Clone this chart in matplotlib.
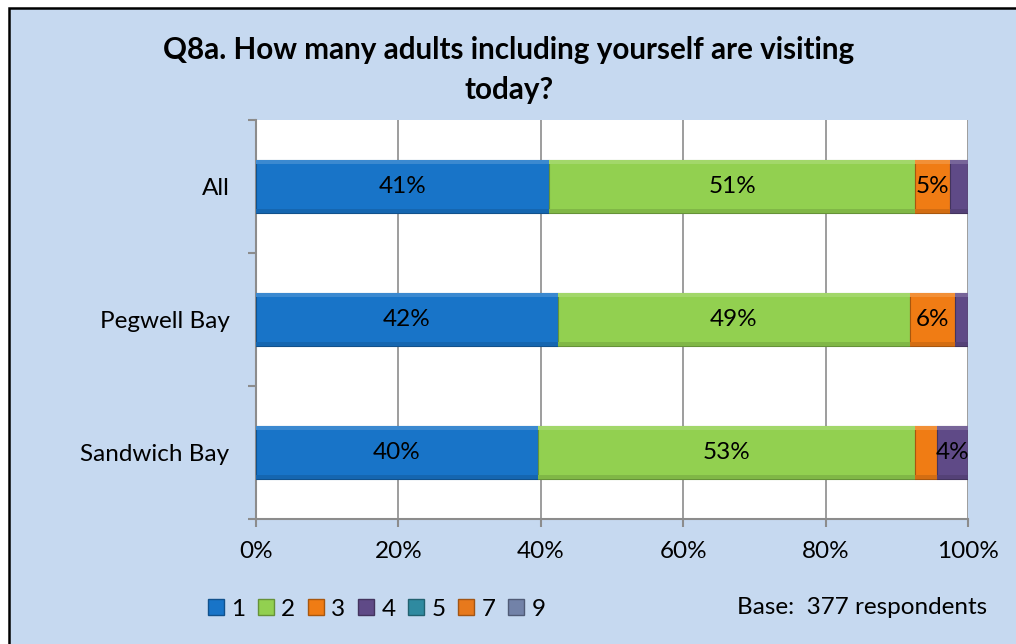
import numpy as np
import matplotlib.pyplot as plt
import matplotlib.patches as mpatches
from matplotlib.colors import to_rgb

# Share of respondents by number of adults in the group (%)
sites = ["All", "Pegwell Bay", "Sandwich Bay"]
groups = ["1", "2", "3", "4", "5", "7", "9"]
pct_1 = [41.2, 42.4, 39.6]
pct_2 = [51.4, 49.4, 52.9]
pct_3 = [4.9, 6.4, 3.1]
pct_4 = [2.5, 1.8, 4.4]
pct_5 = [0.0, 0.0, 0.0]
pct_7 = [0.0, 0.0, 0.0]
pct_9 = [0.0, 0.0, 0.0]
base_n = 377

series = [pct_1, pct_2, pct_3, pct_4, pct_5, pct_7, pct_9]
colors = ["#1874C8", "#92D050", "#F07C14", "#5F4A87", "#2F8AA0", "#E7791C", "#7282A8"]
BG = "#C6D9F0"
FONT = "Lato"
FS = 17.5


def shade(c, f):
    r, g, b = to_rgb(c)
    if f > 0:
        return (r + (1 - r) * f, g + (1 - g) * f, b + (1 - b) * f)
    return (r * (1 + f), g * (1 + f), b * (1 + f))


fig = plt.figure(figsize=(10.16, 6.44), dpi=100, facecolor="white")

# Chart area background with the black frame on the left and top
fig.patches.append(mpatches.Rectangle(
    (9 / 1016, -0.05), 1.2, 0.05 + (644 - 8) / 644,
    transform=fig.transFigure, facecolor=BG, edgecolor="black", linewidth=1.8, zorder=-5))

ax = fig.add_axes([256 / 1016, 125 / 644, 712 / 1016, 399 / 644])
ax.set_facecolor("white")

y = np.arange(len(sites))
h = 0.40
left = np.zeros(len(sites))
for vals, col in zip(series, colors):
    vals = np.array(vals)
    ax.barh(y, vals, left=left, height=h, color=col, edgecolor=shade(col, -0.3),
            linewidth=0.8, zorder=3)
    # bevel: light top edge and dark bottom edge
    ax.barh(y - h / 2 + 0.018, vals, left=left, height=0.03, color=shade(col, 0.15),
            linewidth=0, zorder=4)
    ax.barh(y + h / 2 - 0.018, vals, left=left, height=0.03, color=shade(col, -0.12),
            linewidth=0, zorder=4)
    for yi, v, l in zip(y, vals, left):
        if v >= 3.5:
            ax.text(l + v / 2, yi, f"{v:.0f}%", ha="center", va="center",
                    fontsize=FS, family=FONT, color="black", zorder=5)
    left = left + vals

ax.set_xlim(0, 100)
ax.set_ylim(2.5, -0.5)

ax.set_xticks(np.arange(0, 101, 20))
ax.set_xticklabels([f"{t}%" for t in range(0, 101, 20)], fontsize=FS, family=FONT)
ax.xaxis.grid(True, color="#8C8C8C", linewidth=1.2, zorder=0)
ax.set_axisbelow(True)

ax.set_yticks([-0.5, 0.5, 1.5, 2.5])
ax.set_yticklabels([])
ax.set_yticks(y, minor=True)
ax.set_yticklabels(sites, minor=True, fontsize=FS, family=FONT)
ax.tick_params(axis="y", which="major", length=6, width=1.5, color="#8C8C8C")
ax.tick_params(axis="y", which="minor", length=0, pad=19)
ax.tick_params(axis="x", length=6, width=1.5, color="#8C8C8C", pad=10)

for s in ["top", "right"]:
    ax.spines[s].set_visible(False)
for s in ["left", "bottom"]:
    ax.spines[s].set_color("#8C8C8C")
    ax.spines[s].set_linewidth(1.5)

fig.text(509 / 1016, 1 - 50 / 644, "Q8a. How many adults including yourself are visiting",
         ha="center", va="center", fontsize=21.3, fontweight="bold", family=FONT)
fig.text(509 / 1016, 1 - 90 / 644, "today?",
         ha="center", va="center", fontsize=21.3, fontweight="bold", family=FONT)

handles = [mpatches.Patch(facecolor=c, edgecolor=shade(c, -0.3), label=g)
           for c, g in zip(colors, groups)]
fig.legend(handles=handles, loc="center left", bbox_to_anchor=(186 / 1016, 1 - 609 / 644),
           ncol=7, frameon=False, prop={"family": FONT, "size": FS},
           handlelength=0.66, handleheight=0.66, handletextpad=0.3, columnspacing=0.52)

fig.text(737 / 1016, 1 - 607 / 644, f"Base:  {base_n} respondents",
         ha="left", va="center", fontsize=FS, family=FONT)

fig.savefig("out.png", dpi=100, facecolor=fig.get_facecolor())
